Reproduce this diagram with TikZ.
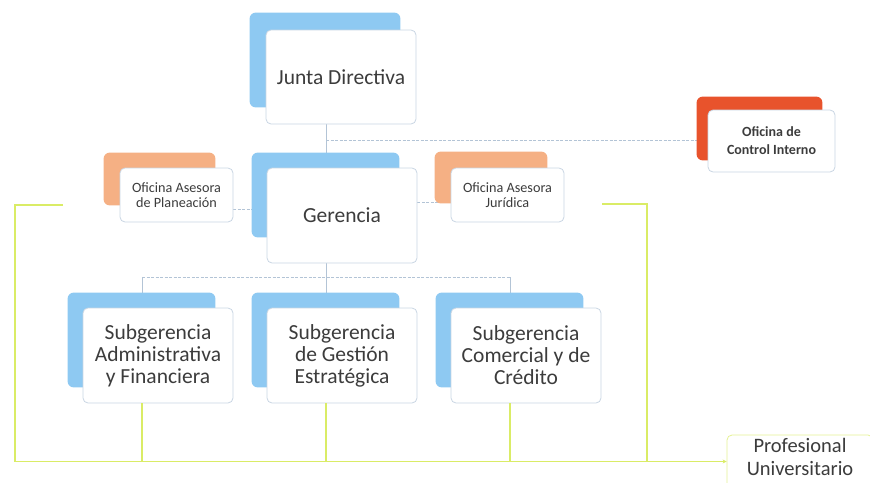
\documentclass[tikz,border=0pt]{standalone}
\usepackage{fontspec}
\setmainfont{Carlito}
\usetikzlibrary{backgrounds,calc,arrows.meta}
\definecolor{bback}{HTML}{8EC9F2}
\definecolor{oback}{HTML}{F5B084}
\definecolor{rback}{HTML}{E8532C}
\definecolor{fborder}{HTML}{C9D6E3}
\definecolor{connc}{HTML}{B3C4D6}
\definecolor{ygreen}{HTML}{DAEC66}
\definecolor{txt}{HTML}{3C3C3C}
\begin{document}
\begin{tikzpicture}[x=1pt,y=-1pt,
  front/.style={draw=fborder, line width=0.8pt, fill=white, rounded corners=5pt, align=center, text=txt, inner sep=2pt},
  bigbox/.style={front, minimum width=150pt, minimum height=95pt, font=\fontsize{21.5}{22}\selectfont},
  smallbox/.style={front, minimum width=113pt, minimum height=54pt, font=\fontsize{14.2}{15.5}\selectfont},
  backbox/.style={rounded corners=6pt},
  connline/.style={draw=connc, line width=0.6pt},
  dashconn/.style={draw=connc, line width=0.6pt, dash pattern=on 3pt off 1.5pt},
  ygline/.style={draw=ygreen, line width=1.3pt}]
\useasboundingbox (0,0) rectangle (870,482);

% front boxes
\node[bigbox, minimum height=94pt] (junta) at (341,77) {Junta Directiva};
\node[bigbox] (ger) at (342,215.5) {Gerencia};
\node[smallbox] (plan) at (176.5,195) {Oficina Asesora\\de Planeación};
\node[smallbox] (jur) at (507.5,195) {Oficina Asesora\\Jurídica};
\node[front, minimum width=127pt, minimum height=62pt, font=\bfseries\fontsize{14}{18}\selectfont] (ctrl) at (771.5,141) {Oficina de\\Control Interno};
\node[bigbox] (sub1) at (158,355.5) {Subgerencia\\Administrativa\\y Financiera};
\node[bigbox] (sub2) at (342,355.5) {Subgerencia\\de Gestión\\Estratégica};
\node[bigbox] (sub3) at (526,355.5) {Subgerencia\\Comercial y de\\Crédito};
\node[front, draw=ygreen!70, minimum width=146pt, minimum height=53pt, text depth=9pt, font=\fontsize{20.5}{22.5}\selectfont] (prof) at (800,461.5) {Profesional\\Universitario};

\begin{scope}[on background layer]
  % connectors
  \coordinate (jg) at ($(junta.south)+(-15,0)$);
  \draw[connline] (jg) -- (jg |- ger.north);
  \coordinate (cj) at ($(jg)+(0,16)$);
  \draw[dashconn] (cj) -- (cj -| ctrl.west);
  \draw[dashconn] ([yshift=-14pt]plan.east) -- ([yshift=-14pt]plan.east -| ger.west);
  \draw[dashconn] ([yshift=13pt]ger.east) -- ([yshift=13pt]ger.east -| jur.west);
  \coordinate (gs) at ($(ger.south)+(-16,0)$);
  \coordinate (bus) at ($(gs)+(0,14)$);
  \coordinate (s1t) at ($(sub1.north)+(-16,0)$);
  \coordinate (s2t) at ($(sub2.north)+(-16,0)$);
  \coordinate (s3t) at ($(sub3.north)+(-16,0)$);
  \draw[connline] (gs) -- (bus);
  \draw[dashconn] (s1t |- bus) -- (s3t |- bus);
  \draw[connline] (s1t |- bus) -- (s1t);
  \draw[connline] (s2t |- bus) -- (s2t);
  \draw[connline] (s3t |- bus) -- (s3t);
  % back boxes
  \fill[bback, backbox] ($(junta.north west)+(-16,-17)$) rectangle ($(junta.south east)+(-16,-17)$);
  \fill[bback, backbox] ($(ger.north west)+(-15,-15)$) rectangle ($(ger.south east)+(-18,-26)$);
  \fill[oback, backbox] ($(plan.north west)+(-16,-15)$) rectangle ($(plan.south east)+(-18,-17)$);
  \fill[oback, backbox] ($(jur.north west)+(-16,-16)$) rectangle ($(jur.south east)+(-17,-19)$);
  \fill[rback, backbox] ($(ctrl.north west)+(-11,-13)$) rectangle ($(ctrl.south east)+(-13,-12)$);
  \fill[bback, backbox] ($(sub1.north west)+(-15,-15)$) rectangle ($(sub1.south east)+(-18,-16)$);
  \fill[bback, backbox] ($(sub2.north west)+(-15,-15)$) rectangle ($(sub2.south east)+(-18,-16)$);
  \fill[bback, backbox] ($(sub3.north west)+(-15,-15)$) rectangle ($(sub3.south east)+(-18,-16)$);
\end{scope}

% yellow-green connectors
\coordinate (gleft) at (15,461.5);
\coordinate (lstub) at (63,205);
\coordinate (rstub) at (602,204);
\coordinate (rcorner) at (647,204);
\coordinate (s1b) at ($(sub1.south)+(-16,0)$);
\coordinate (s2b) at ($(sub2.south)+(-16,0)$);
\coordinate (s3b) at ($(sub3.south)+(-16,0)$);
\draw[ygline] (lstub) -- (lstub -| gleft) -- (gleft);
\draw[ygline, -{Stealth[length=4pt,width=4pt]}] (gleft) -- (gleft -| prof.west);
\draw[ygline] (s1b) -- (s1b |- gleft);
\draw[ygline] (s2b) -- (s2b |- gleft);
\draw[ygline] (s3b) -- (s3b |- gleft);
\draw[ygline] (rstub) -- (rcorner) -- (rcorner |- gleft);
\end{tikzpicture}
\end{document}
